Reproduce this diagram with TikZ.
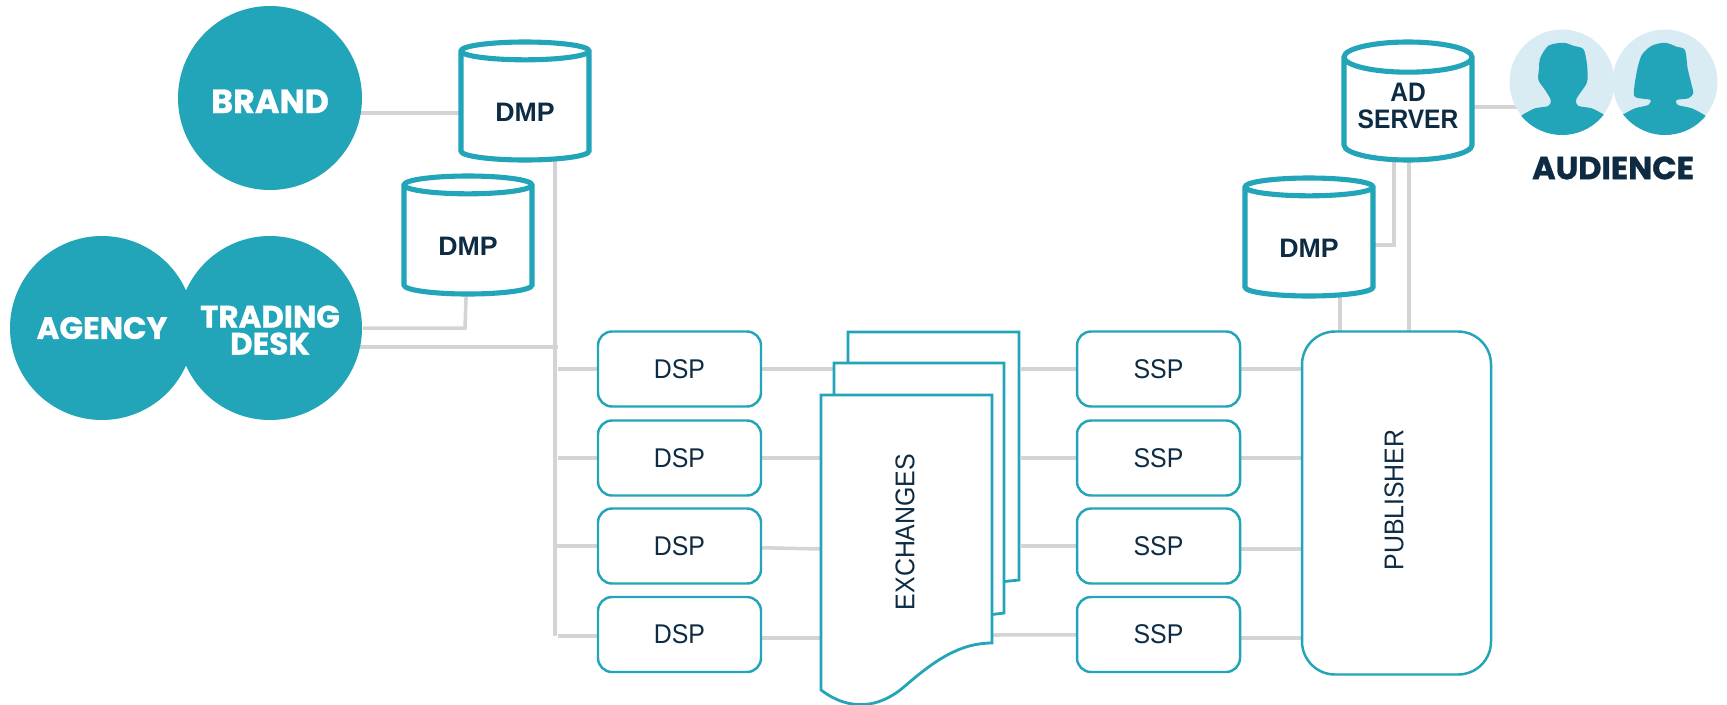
\documentclass[tikz,border=0pt]{standalone}
\usepackage{fontspec}
\usepackage{xcolor}
\usepackage{tikz}
\usetikzlibrary{calc,backgrounds,shapes.geometric}
\setmainfont{Liberation Sans}
\newfontfamily\boxfont[FakeStretch=0.92]{Liberation Sans}
\newfontfamily\headfont[FakeBold=1]{Poppins Bold}
\definecolor{teal}{HTML}{22A5B8}
\definecolor{ink}{HTML}{0D2B43}
\definecolor{wirecol}{HTML}{D4D4D4}
\definecolor{pale}{HTML}{D9EBF3}
\tikzset{
  party/.style={circle,fill=teal,text=white,minimum size=1.84cm,inner sep=0pt,align=center,font=\headfont\fontsize{8.8}{7.7}\selectfont},
  store/.style={cylinder,anchor=shape center,shape border rotate=90,aspect=0.3,draw=teal,fill=white,line width=1.45pt,minimum width=1.28cm,minimum height=1.18cm,inner sep=0pt,align=center,text=ink,font=\boxfont\bfseries\fontsize{7.6}{7.7}\selectfont},
  platform/.style={rectangle,rounded corners=0.14cm,draw=teal,fill=white,line width=0.7pt,minimum width=1.63cm,minimum height=0.75cm,text=ink,font=\boxfont\fontsize{7.7}{9}\selectfont},
  sheet/.style={draw=teal,fill=white,line width=0.8pt},
  wire/.style={draw=wirecol,line width=1pt},
  viewer/.style={circle,fill=pale,minimum size=1.05cm,inner sep=0pt}
}
\newcommand{\dmptext}{\raisebox{-0.055cm}[\height][\depth]{\rmfamily\bfseries DMP}}
\begin{document}
\begin{tikzpicture}
\useasboundingbox (0,0) rectangle (17.27,-7.04);

\node[party,font=\headfont\fontsize{9.5}{7.7}\selectfont] (brand) at (2.70,-0.98) {\raisebox{-0.033cm}[\height][\depth]{BRAND}};
\node[party] (agency) at (1.02,-3.28) {AGENCY};
\node[party] (desk) at (2.70,-3.28) {\raisebox{-0.022cm}[\height][\depth]{TRADING}\\\raisebox{-0.022cm}[\height][\depth]{DESK}};

\node[store] (dmpa) at (5.25,-1.01) {\dmptext};
\node[store] (dmpb) at (4.68,-2.35) {\dmptext};
\node[store] (dmpc) at (13.09,-2.37) {\dmptext};
\node[store] (adsrv) at (14.08,-1.01) {\raisebox{0.08cm}{AD}\\\raisebox{0.08cm}{SERVER}};

\node[platform] (dspa) at (6.795,-3.69) {DSP};
\node[platform] (dspb) at (6.795,-4.58) {DSP};
\node[platform] (dspc) at (6.795,-5.46) {DSP};
\node[platform] (dspd) at (6.795,-6.345) {DSP};

\node[platform] (sspa) at (11.585,-3.69) {SSP};
\node[platform] (sspb) at (11.585,-4.58) {SSP};
\node[platform] (sspc) at (11.585,-5.46) {SSP};
\node[platform] (sspd) at (11.585,-6.345) {SSP};

\node[platform,rounded corners=0.33cm,minimum width=1.89cm,minimum height=3.43cm] (pub) at (13.965,-5.03) {};
\node[text=ink,rotate=90,font=\boxfont\fontsize{7.7}{9}\selectfont] (publabel) at (13.94,-5.00) {PUBLISHER};

\path[sheet] (8.48,-3.32) -- (10.19,-3.32) -- (10.19,-5.80) -- (9.90,-5.83) -- (8.48,-5.83) -- cycle;
\path[sheet] (8.34,-3.63) -- (10.04,-3.63) -- (10.04,-6.13) -- (9.80,-6.16) -- (8.34,-6.16) -- cycle;
\path[sheet] (8.21,-3.95) -- (9.92,-3.95) -- (9.92,-6.43) .. controls (9.60,-6.43) and (9.35,-6.60) .. (9.05,-6.86) .. controls (8.80,-7.08) and (8.50,-7.12) .. (8.21,-6.90) -- cycle;
\node[text=ink,rotate=90,font=\boxfont\fontsize{7.7}{9}\selectfont] (xlabel) at (9.05,-5.32) {EXCHANGES};

\node[viewer] (viewa) at (15.62,-0.82) {};
\node[viewer] (viewb) at (16.65,-0.82) {};
\begin{scope}[shift={(viewa.center)},x=0.003333cm,y=-0.003333cm]
\clip (0,0) circle (0.53cm);
\fill[teal] plot[smooth,tension=0.5] coordinates {(-125,104) (-116,97) (-81,79) (-41,72) (-34,54) (-51,24) (-71,-6) (-69,-41) (-66,-71) (-41,-109) (4,-118) (34,-109) (64,-99) (74,-61) (77,-21) (74,4) (54,34) (42,54) (49,72) (89,79) (124,97) (133,104)} -- (133,170) -- (-125,170) -- cycle;
\end{scope}
\begin{scope}[shift={(viewb.center)},x=0.003333cm,y=-0.003333cm]
\clip (0,0) circle (0.53cm);
\fill[teal] plot[smooth,tension=0.5] coordinates {(-134,104) (-125,97) (-90,79) (-50,69) (-43,54) (-60,51) (-85,47) (-94,34) (-85,-31) (-70,-81) (-40,-109) (0,-118) (35,-106) (60,-96) (68,-41) (80,9) (85,34) (70,49) (35,54) (38,69) (80,79) (115,97) (124,104)} -- (124,170) -- (-134,170) -- cycle;
\end{scope}
\node[text=ink,font=\headfont\fontsize{9.1}{10}\selectfont] (audience) at (16.13,-1.68) {AUDIENCE};

\coordinate (bus) at (5.55,-6.36);
\coordinate (busgap) at (5.575,-6.36);
\coordinate (brandwire) at (4.10,-1.13);
\coordinate (deskwire) at (4.65,-3.28);
\coordinate (trunk) at (4.00,-3.47);
\coordinate (srvjoin) at (13.94,-2.45);
\coordinate (pubdmp) at (13.40,-3.60);
\coordinate (pubsrv) at (14.09,-3.60);
\coordinate (audwire) at (15.30,-1.07);
\coordinate (xla) at (8.34,-3.69);
\coordinate (xlb) at (8.21,-4.58);
\coordinate (xlc) at (8.21,-5.49);
\coordinate (xld) at (8.21,-6.38);
\coordinate (xra) at (10.21,-3.69);
\coordinate (xrb) at (10.21,-4.58);
\coordinate (xrc) at (10.21,-5.46);
\coordinate (xrd) at (9.92,-6.35);
\coordinate (pubc) at (13.02,-5.49);
\coordinate (pubd) at (13.02,-6.38);

\begin{scope}[on background layer]
\draw[wire] (brand |- brandwire) -- (dmpa |- brandwire);
\draw[wire] (desk) -- (deskwire) -- (dmpb);
\draw[wire] (desk |- trunk) -- (busgap |- trunk);
\draw[wire] (bus |- dmpa) -- (bus);
\draw[wire] (busgap |- dspa) -- (dspa);
\draw[wire] (busgap |- dspb) -- (dspb);
\draw[wire] (bus |- dspc) -- (dspc);
\draw[wire] (busgap) -- (dspd |- busgap);
\draw[wire] (dspa) -- (xla);
\draw[wire] (dspb) -- (xlb);
\draw[wire] (dspc) -- (xlc);
\draw[wire] (dspd |- xld) -- (xld);
\draw[wire] (xra) -- (sspa);
\draw[wire] (xrb) -- (sspb);
\draw[wire] (xrc) -- (sspc);
\draw[wire] (xrd) -- (sspd);
\draw[wire] (sspa) -- (sspa -| pub.west);
\draw[wire] (sspb) -- (sspb -| pub.west);
\draw[wire] (sspc |- pubc) -- (pubc);
\draw[wire] (sspd |- pubd) -- (pubd);
\draw[wire] (pubdmp |- dmpc) -- (pubdmp);
\draw[wire] (pubsrv |- adsrv) -- (pubsrv);
\draw[wire] (srvjoin |- adsrv) -- (srvjoin) -- (dmpc |- srvjoin);
\draw[wire] (adsrv |- audwire) -- (audwire);
\end{scope}
\end{tikzpicture}
\end{document}
